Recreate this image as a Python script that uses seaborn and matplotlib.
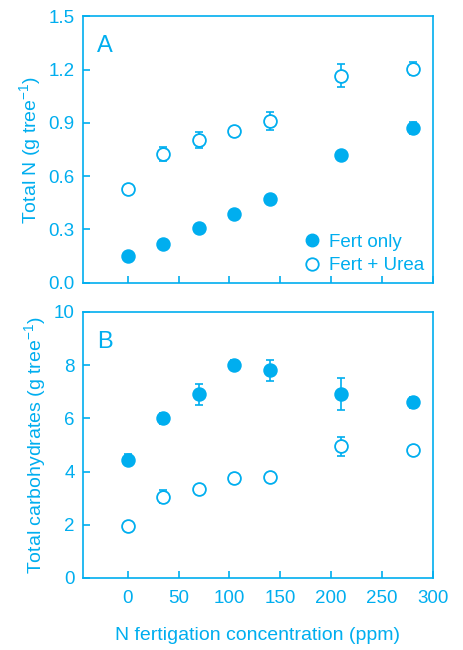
import numpy as np
import pandas as pd
import matplotlib
matplotlib.use("Agg")
import matplotlib.pyplot as plt
import seaborn as sns
from matplotlib.lines import Line2D

sns.set_style("ticks")
plt.rcParams["font.family"] = ["Liberation Sans", "DejaVu Sans"]
plt.rcParams["mathtext.fontset"] = "custom"
plt.rcParams["mathtext.rm"] = "Liberation Sans"
plt.rcParams["mathtext.default"] = "rm"

CYAN = "#00AEEF"

# ================= Data =================
n_ppm = [0, 35, 70, 105, 140, 210, 280]

totalN_fert = [0.15, 0.22, 0.31, 0.385, 0.47, 0.72, 0.87]
totalN_fert_err = [0.015, 0.015, 0.015, 0.015, 0.015, 0.015, 0.035]
totalN_urea = [0.525, 0.725, 0.805, 0.855, 0.91, 1.165, 1.205]
totalN_urea_err = [0.015, 0.04, 0.045, 0.015, 0.05, 0.065, 0.035]

carb_fert = [4.45, 6.0, 6.9, 8.0, 7.8, 6.9, 6.6]
carb_fert_err = [0.2, 0.2, 0.4, 0.2, 0.4, 0.6, 0.2]
carb_urea = [1.95, 3.05, 3.35, 3.75, 3.8, 4.95, 4.8]
carb_urea_err = [0.05, 0.25, 0.1, 0.1, 0.15, 0.35, 0.15]

groups = ["Fert only", "Fert + Urea"]


def make_df(fert, fert_err, urea, urea_err):
    rows = []
    for x, y, e in zip(n_ppm, fert, fert_err):
        rows.append((x, y, e, groups[0]))
    for x, y, e in zip(n_ppm, urea, urea_err):
        rows.append((x, y, e, groups[1]))
    return pd.DataFrame(rows, columns=["ppm", "val", "err", "group"])


def draw_panel(ax, df, ylim, yticks, ylabel, letter):
    for g in groups:
        sub = df[df["group"] == g]
        ax.errorbar(sub["ppm"], sub["val"], yerr=sub["err"], fmt="none",
                    ecolor=CYAN, elinewidth=1.2, capsize=3, capthick=1.2, zorder=2)
    # filled markers for Fert only, open markers for Fert + Urea
    sns.scatterplot(data=df[df["group"] == groups[0]], x="ppm", y="val",
                    s=85, color=CYAN, edgecolor=CYAN, linewidth=1.2,
                    ax=ax, legend=False, zorder=3)
    sns.scatterplot(data=df[df["group"] == groups[1]], x="ppm", y="val",
                    s=85, facecolor="white", edgecolor=CYAN, linewidth=1.3,
                    ax=ax, legend=False, zorder=3)

    ax.set_xlim(-44, 300)
    ax.set_xticks([0, 50, 100, 150, 200, 250, 300])
    ax.set_ylim(*ylim)
    ax.set_yticks(yticks)
    ax.set_ylabel(ylabel, fontsize=14, color=CYAN)
    ax.set_xlabel(None)
    ax.tick_params(axis="both", direction="in", length=5, width=1.2,
                   colors=CYAN, labelsize=13.5, labelcolor=CYAN, pad=6)
    ax.tick_params(axis="x", pad=9)
    for spine in ax.spines.values():
        spine.set_visible(True)
        spine.set_color(CYAN)
        spine.set_linewidth(1.2)
    ax.text(0.04, 0.93, letter, transform=ax.transAxes, fontsize=17,
            color=CYAN, ha="left", va="top")


fig = plt.figure(figsize=(4.63, 6.5), dpi=100)
axA = fig.add_axes([0.179, 0.565, 0.756, 0.410])
axB = fig.add_axes([0.179, 0.111, 0.756, 0.409])

dfA = make_df(totalN_fert, totalN_fert_err, totalN_urea, totalN_urea_err)
dfB = make_df(carb_fert, carb_fert_err, carb_urea, carb_urea_err)

draw_panel(axA, dfA, (0, 1.5), [0.0, 0.3, 0.6, 0.9, 1.2, 1.5],
           r"Total N (g tree$^{-1}$)", "A")
axA.set_yticklabels(["0.0", "0.3", "0.6", "0.9", "1.2", "1.5"])
axA.tick_params(axis="x", labelbottom=False)

draw_panel(axB, dfB, (0, 10), [0, 2, 4, 6, 8, 10],
           r"Total carbohydrates (g tree$^{-1}$)", "B")
axB.set_xlabel("N fertigation concentration (ppm)", fontsize=14, color=CYAN, labelpad=14)

handles = [
    Line2D([], [], marker="o", linestyle="none", markersize=9,
           markerfacecolor=CYAN, markeredgecolor=CYAN),
    Line2D([], [], marker="o", linestyle="none", markersize=9,
           markerfacecolor="white", markeredgecolor=CYAN, markeredgewidth=1.3),
]
leg = axA.legend(handles, groups, loc="lower right", frameon=False,
                 fontsize=13.5, handletextpad=0.3, labelspacing=0.35,
                 borderaxespad=0.05, handlelength=1.2)
for t in leg.get_texts():
    t.set_color(CYAN)

fig.savefig("out.png", dpi=100)
